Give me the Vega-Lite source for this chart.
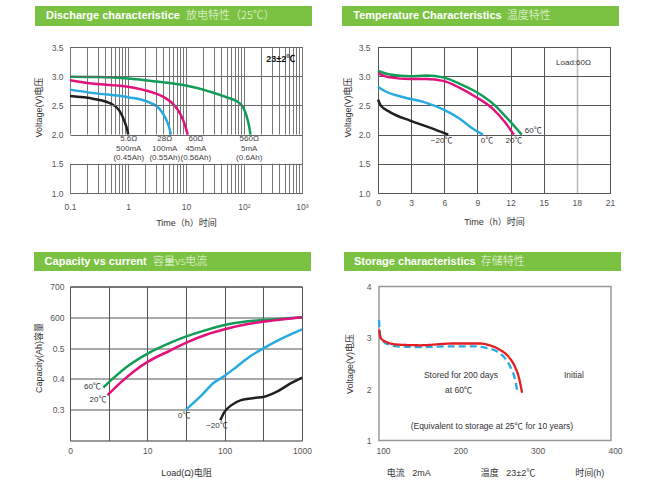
{
  "$schema": "https://vega.github.io/schema/vega-lite/v6.json",
  "background": "white",
  "padding": {"left": 34, "top": 6, "right": 0, "bottom": 0},
  "spacing": 24,
  "resolve": {"scale": {"color": "independent", "strokeDash": "independent"}},
  "datasets": {
    "discharge": [
      {"s": "560Ω", "t": 0.1, "v": 2.99}, {"s": "560Ω", "t": 0.3, "v": 2.985}, {"s": "560Ω", "t": 1, "v": 2.96}, {"s": "560Ω", "t": 3, "v": 2.91}, {"s": "560Ω", "t": 10, "v": 2.84}, {"s": "560Ω", "t": 27, "v": 2.73}, {"s": "560Ω", "t": 50, "v": 2.64}, {"s": "560Ω", "t": 75, "v": 2.57}, {"s": "560Ω", "t": 95, "v": 2.48}, {"s": "560Ω", "t": 110, "v": 2.33}, {"s": "560Ω", "t": 122, "v": 2.15}, {"s": "560Ω", "t": 129, "v": 2.0},
      {"s": "60Ω", "t": 0.1, "v": 2.93}, {"s": "60Ω", "t": 0.26, "v": 2.87}, {"s": "60Ω", "t": 1, "v": 2.82}, {"s": "60Ω", "t": 2.5, "v": 2.73}, {"s": "60Ω", "t": 4.2, "v": 2.64}, {"s": "60Ω", "t": 6.3, "v": 2.5}, {"s": "60Ω", "t": 8.2, "v": 2.33}, {"s": "60Ω", "t": 9.6, "v": 2.16}, {"s": "60Ω", "t": 10.7, "v": 2.0},
      {"s": "28Ω", "t": 0.1, "v": 2.77}, {"s": "28Ω", "t": 0.26, "v": 2.71}, {"s": "28Ω", "t": 1, "v": 2.64}, {"s": "28Ω", "t": 2.2, "v": 2.56}, {"s": "28Ω", "t": 3.5, "v": 2.44}, {"s": "28Ω", "t": 4.5, "v": 2.27}, {"s": "28Ω", "t": 5.1, "v": 2.13}, {"s": "28Ω", "t": 5.5, "v": 2.0},
      {"s": "5.6Ω", "t": 0.1, "v": 2.66}, {"s": "5.6Ω", "t": 0.26, "v": 2.61}, {"s": "5.6Ω", "t": 0.51, "v": 2.53}, {"s": "5.6Ω", "t": 0.71, "v": 2.41}, {"s": "5.6Ω", "t": 0.86, "v": 2.24}, {"s": "5.6Ω", "t": 0.96, "v": 2.1}, {"s": "5.6Ω", "t": 1.01, "v": 2.0}
    ],
    "dischargeLabels": [
      {"t": 1.03, "v": 1.99, "label": "5.6Ω\n500mA\n(0.45Ah)"},
      {"t": 4.3, "v": 1.99, "label": "28Ω\n100mA\n(0.55Ah)"},
      {"t": 14.8, "v": 1.99, "label": "60Ω\n45mA\n(0.56Ah)"},
      {"t": 123, "v": 1.99, "label": "560Ω\n5mA\n(0.6Ah)"}
    ],
    "temperature": [
      {"s": "60℃", "t": 0, "v": 3.09}, {"s": "60℃", "t": 1.08, "v": 3.03}, {"s": "60℃", "t": 2.9, "v": 3.0}, {"s": "60℃", "t": 4.4, "v": 3.01}, {"s": "60℃", "t": 5.9, "v": 2.98}, {"s": "60℃", "t": 7.4, "v": 2.87}, {"s": "60℃", "t": 8.9, "v": 2.73}, {"s": "60℃", "t": 10.4, "v": 2.53}, {"s": "60℃", "t": 11.6, "v": 2.3}, {"s": "60℃", "t": 12.55, "v": 2.1}, {"s": "60℃", "t": 13.0, "v": 2.0},
      {"s": "20℃", "t": 0, "v": 3.05}, {"s": "20℃", "t": 1.08, "v": 2.98}, {"s": "20℃", "t": 2.9, "v": 2.95}, {"s": "20℃", "t": 4.4, "v": 2.95}, {"s": "20℃", "t": 5.9, "v": 2.92}, {"s": "20℃", "t": 7.4, "v": 2.8}, {"s": "20℃", "t": 8.9, "v": 2.64}, {"s": "20℃", "t": 10.4, "v": 2.44}, {"s": "20℃", "t": 11.5, "v": 2.21}, {"s": "20℃", "t": 12.3, "v": 2.0},
      {"s": "0℃", "t": 0, "v": 2.82}, {"s": "0℃", "t": 0.48, "v": 2.76}, {"s": "0℃", "t": 2.3, "v": 2.64}, {"s": "0℃", "t": 4.1, "v": 2.56}, {"s": "0℃", "t": 5.9, "v": 2.43}, {"s": "0℃", "t": 7.4, "v": 2.27}, {"s": "0℃", "t": 8.6, "v": 2.1}, {"s": "0℃", "t": 9.5, "v": 2.0},
      {"s": "−20℃", "t": 0, "v": 2.6}, {"s": "−20℃", "t": 0.24, "v": 2.5}, {"s": "−20℃", "t": 1.08, "v": 2.385}, {"s": "−20℃", "t": 2.9, "v": 2.24}, {"s": "−20℃", "t": 4.7, "v": 2.12}, {"s": "−20℃", "t": 6.36, "v": 2.0}
    ],
    "temperatureLabels": [
      {"t": 14.05, "v": 2.06, "label": "60℃"},
      {"t": 5.76, "v": 1.89, "label": "−20℃"},
      {"t": 9.86, "v": 1.89, "label": "0℃"},
      {"t": 12.3, "v": 1.89, "label": "20℃"},
      {"t": 17.7, "v": 3.23, "label": "Load:60Ω"}
    ],
    "capacity": [
      {"s": "60℃", "load": 2.7, "cap": 0.372}, {"s": "60℃", "load": 3.7, "cap": 0.404}, {"s": "60℃", "load": 5.5, "cap": 0.44}, {"s": "60℃", "load": 10.2, "cap": 0.483}, {"s": "60℃", "load": 20, "cap": 0.518}, {"s": "60℃", "load": 32, "cap": 0.538}, {"s": "60℃", "load": 60, "cap": 0.56}, {"s": "60℃", "load": 100, "cap": 0.575}, {"s": "60℃", "load": 199, "cap": 0.587}, {"s": "60℃", "load": 440, "cap": 0.594}, {"s": "60℃", "load": 1000, "cap": 0.6},
      {"s": "20℃", "load": 3.05, "cap": 0.347}, {"s": "20℃", "load": 4.5, "cap": 0.388}, {"s": "20℃", "load": 6.8, "cap": 0.426}, {"s": "20℃", "load": 10.2, "cap": 0.456}, {"s": "20℃", "load": 20, "cap": 0.493}, {"s": "20℃", "load": 32, "cap": 0.518}, {"s": "20℃", "load": 60, "cap": 0.545}, {"s": "20℃", "load": 100, "cap": 0.561}, {"s": "20℃", "load": 199, "cap": 0.578}, {"s": "20℃", "load": 440, "cap": 0.59}, {"s": "20℃", "load": 1000, "cap": 0.6},
      {"s": "0℃", "load": 31.6, "cap": 0.3}, {"s": "0℃", "load": 49, "cap": 0.344}, {"s": "0℃", "load": 73, "cap": 0.388}, {"s": "0℃", "load": 100, "cap": 0.41}, {"s": "0℃", "load": 147, "cap": 0.442}, {"s": "0℃", "load": 219, "cap": 0.475}, {"s": "0℃", "load": 320, "cap": 0.5}, {"s": "0℃", "load": 536, "cap": 0.53}, {"s": "0℃", "load": 1000, "cap": 0.561},
      {"s": "−20℃", "load": 88, "cap": 0.266}, {"s": "−20℃", "load": 99, "cap": 0.292}, {"s": "−20℃", "load": 121, "cap": 0.314}, {"s": "−20℃", "load": 163, "cap": 0.331}, {"s": "−20℃", "load": 241, "cap": 0.338}, {"s": "−20℃", "load": 325, "cap": 0.342}, {"s": "−20℃", "load": 487, "cap": 0.36}, {"s": "−20℃", "load": 720, "cap": 0.386}, {"s": "−20℃", "load": 1000, "cap": 0.404}
    ],
    "capacityLabels": [
      {"load": 1.95, "cap": 0.375, "label": "60℃"},
      {"load": 2.3, "cap": 0.331, "label": "20℃"},
      {"load": 30, "cap": 0.281, "label": "0℃"},
      {"load": 79.5, "cap": 0.246, "label": "−20℃"}
    ],
    "storage": [
      {"s": "Stored", "t": 100, "v": 3.35}, {"s": "Stored", "t": 101.7, "v": 3.03}, {"s": "Stored", "t": 108, "v": 2.9}, {"s": "Stored", "t": 123, "v": 2.835}, {"s": "Stored", "t": 153, "v": 2.82}, {"s": "Stored", "t": 196, "v": 2.835}, {"s": "Stored", "t": 226, "v": 2.835}, {"s": "Stored", "t": 239, "v": 2.8}, {"s": "Stored", "t": 252, "v": 2.74}, {"s": "Stored", "t": 262.6, "v": 2.61}, {"s": "Stored", "t": 270, "v": 2.43}, {"s": "Stored", "t": 275.4, "v": 2.22}, {"s": "Stored", "t": 278.5, "v": 1.99},
      {"s": "Initial", "t": 100.3, "v": 3.16}, {"s": "Initial", "t": 102, "v": 3.0}, {"s": "Initial", "t": 108, "v": 2.93}, {"s": "Initial", "t": 123, "v": 2.87}, {"s": "Initial", "t": 153, "v": 2.855}, {"s": "Initial", "t": 196, "v": 2.89}, {"s": "Initial", "t": 230, "v": 2.89}, {"s": "Initial", "t": 243, "v": 2.855}, {"s": "Initial", "t": 256, "v": 2.77}, {"s": "Initial", "t": 267, "v": 2.64}, {"s": "Initial", "t": 275.4, "v": 2.45}, {"s": "Initial", "t": 281, "v": 2.22}, {"s": "Initial", "t": 285, "v": 1.93}
    ],
    "storageLabels": [
      {"t": 206, "v": 2.28, "label": "Stored for 200 days"},
      {"t": 203, "v": 1.99, "label": "at 60℃"},
      {"t": 352, "v": 2.28, "label": "Initial"},
      {"t": 246, "v": 1.29, "label": "(Equivalent to storage at 25℃ for 10 years)"}
    ]
  },
  "vconcat": [
    {
      "resolve": {"scale": {"color": "independent", "strokeDash": "independent"}},
      "hconcat": [
        {
          "resolve": {"scale": {"color": "independent", "strokeDash": "independent"}},
          "vconcat": [
            {
              "width": 232, "height": 20,
              "data": {"values": [{"a": 0, "b": 1, "en": "Discharge characteristice", "zh": "放电特性（25℃）"}]},
              "encoding": {"x": {"field": "a", "type": "quantitative", "scale": {"domain": [0, 1], "range": [-35, 242]}, "axis": null}},
              "layer": [
                {"mark": {"type": "rect", "fill": "#7cc242"}, "encoding": {"x2": {"field": "b"}}},
                {"mark": {"type": "text", "align": "left", "baseline": "middle", "dx": 11, "fontSize": 11, "fontWeight": "bold", "font": "Liberation Sans", "fill": "white"}, "encoding": {"text": {"field": "en"}}},
                {"mark": {"type": "text", "align": "left", "baseline": "middle", "dx": 151, "fontSize": 11, "fontWeight": 300, "font": "Noto Sans CJK SC", "fill": "#f2f9ec"}, "encoding": {"text": {"field": "zh"}}}
              ]
            },
            {
              "width": 232, "height": 146,
              "view": {"stroke": "#333", "strokeWidth": 1},
              "encoding": {
                "x": {"field": "t", "type": "quantitative", "scale": {"type": "log", "domain": [0.1, 1000], "nice": false},
                  "axis": {"values": [0.1, 0.2, 0.3, 0.4, 0.5, 0.6, 0.7, 0.8, 0.9, 1, 2, 3, 4, 5, 6, 7, 8, 9, 10, 20, 30, 40, 50, 60, 70, 80, 90, 100, 200, 300, 400, 500, 600, 700, 800, 900, 1000],
                    "labelExpr": "datum.value == 0.1 ? '0.1' : datum.value == 1 ? '1' : datum.value == 10 ? '10' : datum.value == 100 ? '10²' : datum.value == 1000 ? '10³' : ''",
                    "grid": true, "gridColor": "#777", "labelPadding": 9, "title": "Time（h）时间", "titlePadding": 8}},
                "y": {"field": "v", "type": "quantitative", "scale": {"domain": [1, 3.5], "nice": false, "zero": false},
                  "axis": {"values": [1, 1.5, 2, 2.5, 3, 3.5], "format": ".1f", "grid": true, "gridColor": "#666", "labelPadding": 7, "title": "Voltage(V)电压", "titlePadding": 7.5, "titleY": 60, "zindex": 1}}
              },
              "layer": [
                {"data": {"values": [{"t": 0.1, "t2": 1000, "v": 1.5, "v2": 2.0}]}, "mark": {"type": "rect", "fill": "white"}, "encoding": {"x2": {"field": "t2"}, "y2": {"field": "v2"}}},
                {"data": {"name": "discharge"}, "mark": {"type": "line", "interpolate": "monotone", "strokeWidth": 2.5}, "encoding": {"color": {"field": "s", "type": "nominal", "scale": {"domain": ["5.6Ω", "28Ω", "60Ω", "560Ω"], "range": ["#231f20", "#27aae1", "#e2127c", "#119c58"]}, "legend": null}}},
                {"data": {"name": "dischargeLabels"}, "mark": {"type": "text", "baseline": "top", "align": "center", "lineBreak": "\n", "fontSize": 8, "lineHeight": 9.5, "fill": "#444"}, "encoding": {"text": {"field": "label"}}},
                {"data": {"values": [{"t": 430, "v": 3.3, "label": "23±2℃"}]}, "mark": {"type": "text", "fontSize": 9, "fontWeight": "bold", "fill": "#111"}, "encoding": {"text": {"field": "label"}}}
              ]
            }
          ],
          "spacing": 16
        },
        {
          "resolve": {"scale": {"color": "independent", "strokeDash": "independent"}},
          "vconcat": [
            {
              "width": 232, "height": 20,
              "data": {"values": [{"a": 0, "b": 1, "en": "Temperature Characteristics", "zh": "温度特性"}]},
              "encoding": {"x": {"field": "a", "type": "quantitative", "scale": {"domain": [0, 1], "range": [-36, 241]}, "axis": null}},
              "layer": [
                {"mark": {"type": "rect", "fill": "#7cc242"}, "encoding": {"x2": {"field": "b"}}},
                {"mark": {"type": "text", "align": "left", "baseline": "middle", "dx": 11.3, "fontSize": 11, "fontWeight": "bold", "font": "Liberation Sans", "fill": "white"}, "encoding": {"text": {"field": "en"}}},
                {"mark": {"type": "text", "align": "left", "baseline": "middle", "dx": 164.7, "fontSize": 11, "fontWeight": 300, "font": "Noto Sans CJK SC", "fill": "#f2f9ec"}, "encoding": {"text": {"field": "zh"}}}
              ]
            },
            {
              "width": 232, "height": 146,
              "view": {"stroke": "#333", "strokeWidth": 1},
              "encoding": {
                "x": {"field": "t", "type": "quantitative", "scale": {"domain": [0, 21], "nice": false},
                  "axis": {"values": [0, 3, 6, 9, 12, 15, 18, 21], "grid": true,
                    "gridColor": {"condition": {"test": "datum.value === 18", "value": "#bbb"}, "value": "#555"},
                    "gridWidth": {"condition": {"test": "datum.value === 18", "value": 1.6}, "value": 1},
                    "labelPadding": 5.5, "title": "Time（h）时间", "titlePadding": 10}},
                "y": {"field": "v", "type": "quantitative", "scale": {"domain": [1, 3.5], "nice": false, "zero": false},
                  "axis": {"values": [1, 1.5, 2, 2.5, 3, 3.5], "format": ".1f", "grid": true, "gridColor": "#555", "labelPadding": 8, "title": "Voltage(V)电压", "titlePadding": 6, "titleY": 60}}
              },
              "layer": [
                {"data": {"name": "temperature"}, "mark": {"type": "line", "interpolate": "monotone", "strokeWidth": 2.5}, "encoding": {"color": {"field": "s", "type": "nominal", "scale": {"domain": ["−20℃", "0℃", "20℃", "60℃"], "range": ["#231f20", "#27aae1", "#e2127c", "#119c58"]}, "legend": null}}},
                {"data": {"name": "temperatureLabels"}, "mark": {"type": "text", "align": "center", "baseline": "middle", "fontSize": 8, "fill": "#333"}, "encoding": {"text": {"field": "label"}}}
              ]
            }
          ],
          "spacing": 16
        }
      ],
      "spacing": 30
    },
    {
      "resolve": {"scale": {"color": "independent", "strokeDash": "independent"}},
      "hconcat": [
        {
          "resolve": {"scale": {"color": "independent", "strokeDash": "independent"}},
          "vconcat": [
            {
              "width": 232, "height": 19,
              "data": {"values": [{"a": 0, "b": 1, "en": "Capacity vs current", "zh": "容量vs电流"}]},
              "encoding": {"x": {"field": "a", "type": "quantitative", "scale": {"domain": [0, 1], "range": [-36, 241]}, "axis": null}},
              "layer": [
                {"mark": {"type": "rect", "fill": "#7cc242"}, "encoding": {"x2": {"field": "b"}}},
                {"mark": {"type": "text", "align": "left", "baseline": "middle", "dx": 10.6, "fontSize": 11, "fontWeight": "bold", "font": "Liberation Sans", "fill": "white"}, "encoding": {"text": {"field": "en"}}},
                {"mark": {"type": "text", "align": "left", "baseline": "middle", "dx": 119, "fontSize": 11, "fontWeight": 300, "font": "Noto Sans CJK SC", "fill": "#f2f9ec"}, "encoding": {"text": {"field": "zh"}}}
              ]
            },
            {
              "width": 232, "height": 154,
              "view": {"stroke": "#333", "strokeWidth": 1},
              "encoding": {
                "x": {"field": "load", "type": "quantitative", "scale": {"type": "log", "domain": [1, 1000], "nice": false},
                  "axis": {"values": [1, 3.1623, 10, 31.623, 100, 316.23, 1000],
                    "labelExpr": "datum.value == 1 ? '0' : datum.value == 10 ? '10' : datum.value == 100 ? '100' : datum.value == 1000 ? '1000' : ''",
                    "grid": true, "gridColor": "#555", "labelPadding": 5.5, "title": "Load(Ω)电阻", "titlePadding": 13.5}},
                "y": {"field": "cap", "type": "quantitative", "scale": {"domain": [0.2, 0.7], "nice": false, "zero": false},
                  "axis": {"values": [0.3, 0.4, 0.5, 0.6, 0.7], "labelExpr": "datum.value > 0.65 ? '700' : datum.value > 0.55 ? '600' : format(datum.value, '.1f')", "grid": true, "gridColor": "#555", "labelPadding": 6, "title": "Capacity(Ah)容量", "titlePadding": 6, "titleY": 71}}
              },
              "layer": [
                {"data": {"name": "capacity"}, "mark": {"type": "line", "interpolate": "monotone", "strokeWidth": 2.5}, "encoding": {"color": {"field": "s", "type": "nominal", "scale": {"domain": ["−20℃", "0℃", "20℃", "60℃"], "range": ["#231f20", "#27aae1", "#e2127c", "#119c58"]}, "legend": null}}},
                {"data": {"name": "capacityLabels"}, "mark": {"type": "text", "align": "center", "baseline": "middle", "fontSize": 8, "fill": "#333"}, "encoding": {"text": {"field": "label"}}}
              ]
            }
          ],
          "spacing": 10.5
        },
        {
          "resolve": {"scale": {"color": "independent", "strokeDash": "independent"}},
          "vconcat": [
            {
              "width": 232, "height": 19,
              "data": {"values": [{"a": 0, "b": 1, "en": "Storage characteristics", "zh": "存储特性"}]},
              "encoding": {"x": {"field": "a", "type": "quantitative", "scale": {"domain": [0, 1], "range": [-35, 242]}, "axis": null}},
              "layer": [
                {"mark": {"type": "rect", "fill": "#7cc242"}, "encoding": {"x2": {"field": "b"}}},
                {"mark": {"type": "text", "align": "left", "baseline": "middle", "dx": 10, "fontSize": 11, "fontWeight": "bold", "font": "Liberation Sans", "fill": "white"}, "encoding": {"text": {"field": "en"}}},
                {"mark": {"type": "text", "align": "left", "baseline": "middle", "dx": 136.7, "fontSize": 11, "fontWeight": 300, "font": "Noto Sans CJK SC", "fill": "#f2f9ec"}, "encoding": {"text": {"field": "zh"}}}
              ]
            },
            {
              "width": 232, "height": 154,
              "view": {"stroke": "#999", "strokeWidth": 1.5},
              "encoding": {
                "x": {"field": "t", "type": "quantitative", "scale": {"domain": [100, 400], "nice": false, "zero": false},
                  "axis": {"values": [100, 200, 300, 400], "grid": false, "labelPadding": 5.5, "labelOffset": 4,
                    "title": "电流\u00a0\u00a0\u00a02mA\u00a0\u00a0\u00a0\u00a0\u00a0\u00a0\u00a0\u00a0\u00a0\u00a0\u00a0\u00a0\u00a0\u00a0\u00a0\u00a0\u00a0\u00a0\u00a0\u00a0温度\u00a0\u00a0\u00a023±2℃\u00a0\u00a0\u00a0\u00a0\u00a0\u00a0\u00a0\u00a0\u00a0\u00a0\u00a0\u00a0\u00a0\u00a0\u00a0\u00a0时间(h)",
                    "titlePadding": 13.5}},
                "y": {"field": "v", "type": "quantitative", "scale": {"domain": [1, 4], "nice": false, "zero": false},
                  "axis": {"values": [1, 2, 3, 4], "grid": false, "labelPadding": 8, "title": "Voltage(V)电压", "titlePadding": 12}}
              },
              "layer": [
                {"data": {"name": "storage"}, "mark": {"type": "line", "interpolate": "monotone", "strokeWidth": 2.3},
                  "encoding": {
                    "color": {"field": "s", "type": "nominal", "scale": {"domain": ["Stored", "Initial"], "range": ["#29abe2", "#e31e24"]}, "legend": null},
                    "strokeDash": {"field": "s", "type": "nominal", "scale": {"domain": ["Stored", "Initial"], "range": [[7, 4], [1, 0]]}, "legend": null}
                  }},
                {"data": {"name": "storageLabels"}, "mark": {"type": "text", "align": "center", "baseline": "middle", "fontSize": 8.5, "fill": "#333"}, "encoding": {"text": {"field": "label"}}}
              ]
            }
          ],
          "spacing": 10.5
        }
      ],
      "spacing": 32
    }
  ],
  "config": {
    "view": {"stroke": null},
    "axis": {"labelFont": "Liberation Sans", "labelFontSize": 8.5, "labelColor": "#555", "titleFont": "Liberation Sans, Noto Sans CJK SC", "titleFontSize": 9, "titleFontWeight": "normal", "titleColor": "#333", "ticks": false, "domain": false, "gridWidth": 1, "labelFlush": false, "labelOverlap": false},
    "text": {"font": "Liberation Sans, Noto Sans CJK SC"}
  }
}
